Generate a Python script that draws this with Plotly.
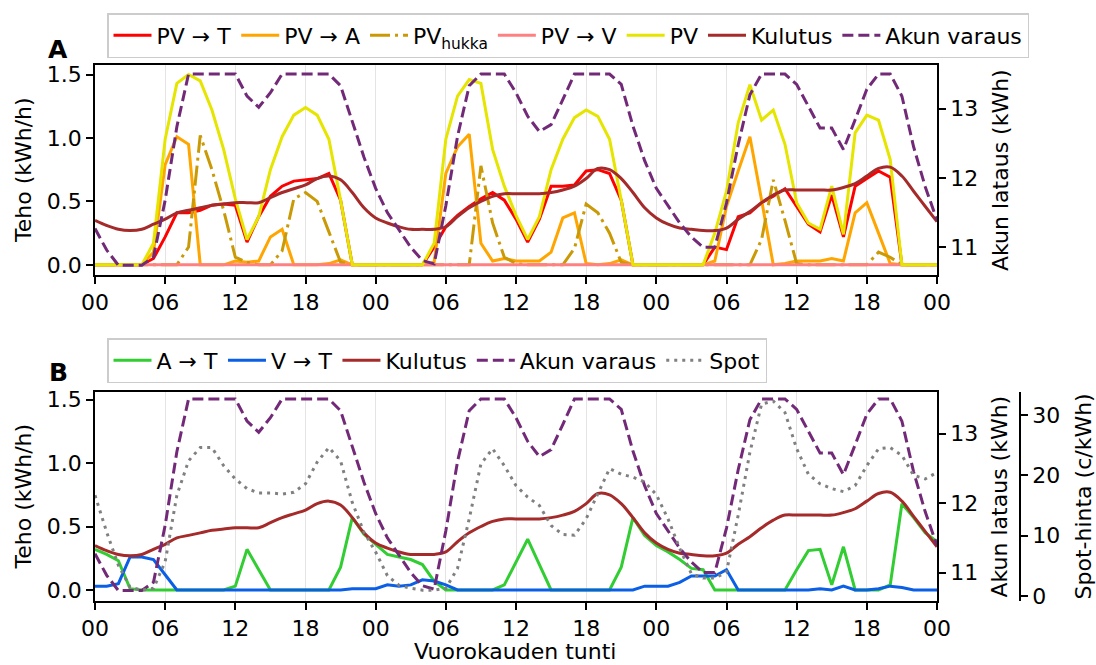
import plotly.graph_objects as go

hours = list(range(73))
tick_vals = [0, 6, 12, 18, 24, 30, 36, 42, 48, 54, 60, 66, 72]
tick_text = ["00", "06", "12", "18", "00", "06", "12", "18", "00", "06", "12", "18", "00"]

pv = [0, 0, 0, 0, 0, 0.17, 0.99, 1.43, 1.50, 1.45, 1.22, 0.91, 0.52, 0.20, 0.38, 0.75, 1.01, 1.18, 1.24, 1.18, 0.99, 0.51, 0, 0,
      0, 0, 0, 0, 0, 0.17, 0.99, 1.33, 1.46, 1.43, 0.91, 0.62, 0.39, 0.20, 0.38, 0.75, 0.99, 1.16, 1.22, 1.17, 0.99, 0.51, 0, 0,
      0, 0, 0, 0, 0, 0.25, 0.58, 1.12, 1.42, 1.14, 1.22, 0.95, 0.49, 0.33, 0.28, 0.62, 0.24, 1.04, 1.18, 1.14, 0.83, 0, 0, 0, 0]
pv_t = [0, 0, 0, 0, 0, 0.05, 0.22, 0.41, 0.41, 0.43, 0.47, 0.48, 0.47, 0.18, 0.38, 0.54, 0.62, 0.66, 0.67, 0.68, 0.72, 0.51, 0, 0,
        0, 0, 0, 0, 0, 0.14, 0.30, 0.39, 0.46, 0.52, 0.57, 0.51, 0.36, 0.18, 0.36, 0.62, 0.62, 0.63, 0.74, 0.75, 0.72, 0.51, 0, 0,
        0, 0, 0, 0, 0, 0.14, 0.12, 0.38, 0.41, 0.49, 0.54, 0.60, 0.46, 0.32, 0.26, 0.55, 0.22, 0.62, 0.68, 0.74, 0.69, 0, 0, 0, 0]
pv_a = [0, 0, 0, 0, 0, 0.10, 0.79, 1.01, 0.95, 0, 0, 0, 0.03, 0.02, 0.03, 0.22, 0.28, 0, 0, 0, 0.01, 0.04, 0, 0,
        0, 0, 0, 0, 0, 0.02, 0.72, 0.93, 1.03, 0.17, 0.03, 0.05, 0.03, 0.03, 0.03, 0.10, 0.37, 0.41, 0.01, 0, 0.01, 0.04, 0, 0,
        0, 0, 0, 0, 0, 0.03, 0.46, 0.74, 1.01, 0.51, 0, 0.01, 0.03, 0.03, 0.03, 0.05, 0.03, 0.41, 0.49, 0.25, 0.01, 0, 0, 0, 0]
pv_hukka = [0, 0, 0, 0, 0, 0, 0, 0, 0.14, 1.02, 0.75, 0.43, 0.06, 0.02, 0, 0, 0.11, 0.52, 0.57, 0.50, 0.26, 0.02, 0, 0,
            0, 0, 0, 0, 0, 0, 0, 0, 0, 0.78, 0.33, 0.06, 0.01, 0, 0, 0, 0, 0.13, 0.48, 0.41, 0.25, 0.02, 0, 0,
            0, 0, 0, 0, 0, 0, 0, 0, 0, 0.20, 0.67, 0.35, 0.01, 0, 0, 0, 0, 0, 0, 0.10, 0.06, 0, 0, 0, 0]
pv_v = [0] * 73
kulutus = [0.35, 0.31, 0.28, 0.27, 0.28, 0.32, 0.36, 0.41, 0.43, 0.45, 0.47, 0.48, 0.49, 0.49, 0.49, 0.53, 0.57, 0.60, 0.63, 0.68, 0.70, 0.67, 0.57, 0.45,
           0.37, 0.33, 0.30, 0.28, 0.28, 0.28, 0.30, 0.38, 0.45, 0.50, 0.54, 0.56, 0.56, 0.56, 0.56, 0.57, 0.59, 0.62, 0.68, 0.76, 0.75, 0.68, 0.57, 0.45,
           0.37, 0.32, 0.29, 0.28, 0.27, 0.27, 0.29, 0.36, 0.42, 0.49, 0.55, 0.59, 0.59, 0.59, 0.59, 0.59, 0.61, 0.64, 0.70, 0.76, 0.77, 0.70, 0.58, 0.46, 0.34]
akku = [11.27, 10.96, 10.74, 10.74, 10.74, 10.86, 11.68, 12.74, 13.5, 13.5, 13.5, 13.5, 13.5, 13.18, 13.02, 13.23, 13.5, 13.5, 13.5, 13.5, 13.5, 13.33, 12.8, 12.3,
        11.85, 11.5, 11.25, 11.0, 10.81, 10.76, 11.6, 12.6, 13.33, 13.5, 13.5, 13.5, 13.23, 12.89, 12.67, 12.77, 13.13, 13.5, 13.5, 13.5, 13.5, 13.35, 12.75, 12.25,
        11.85, 11.6, 11.35, 11.15, 11.0, 11.0, 11.64, 12.48, 13.2, 13.5, 13.5, 13.5, 13.35, 13.03, 12.72, 12.72, 12.41, 12.84, 13.28, 13.5, 13.5, 13.18, 12.45, 11.87, 11.39]
a_t = [0.32, 0.28, 0.23, 0.01, 0, 0, 0, 0, 0, 0, 0, 0, 0.03, 0.32, 0.16, 0, 0, 0, 0, 0, 0, 0.18, 0.57, 0.44,
       0.36, 0.28, 0.26, 0.24, 0.20, 0.07, 0, 0, 0, 0, 0, 0.04, 0.22, 0.40, 0.20, 0, 0, 0, 0, 0, 0, 0.18, 0.57, 0.43,
       0.35, 0.30, 0.24, 0.17, 0.16, 0, 0, 0, 0, 0, 0, 0, 0.16, 0.31, 0.32, 0.04, 0.34, 0, 0, 0, 0.04, 0.68, 0.57, 0.45, 0.38]
v_t = [0.03, 0.03, 0.05, 0.26, 0.26, 0.24, 0.12, 0, 0, 0, 0, 0, 0, 0, 0, 0, 0, 0, 0, 0, 0, 0, 0.01, 0.01,
       0.01, 0.04, 0.03, 0.04, 0.08, 0.07, 0.04, 0, 0, 0, 0, 0, 0, 0, 0, 0, 0, 0, 0, 0, 0, 0, 0, 0.03,
       0.03, 0.03, 0.06, 0.11, 0.11, 0.11, 0.16, 0, 0, 0, 0, 0, 0, 0, 0.01, 0, 0.03, 0, 0, 0.01, 0.03, 0.02, 0, 0, 0]
spot = [16.7, 10.6, 5.1, 1.5, 1.0, 1.3, 5.7, 16.7, 22.4, 24.6, 24.6, 21.6, 19.4, 17.8, 17.1, 17.1, 16.9, 17.2, 18.6, 22.2, 24.6, 22.4, 15.5, 10.6,
        7.3, 3.4, 1.8, 1.3, 1.0, 1.0, 1.3, 4.6, 12.8, 21.9, 24.4, 21.6, 18.3, 16.4, 15.0, 11.7, 10.2, 10.1, 12.8, 16.9, 21.1, 20.2, 19.7, 18.9,
        16.8, 12.8, 7.9, 3.7, 3.0, 3.0, 4.0, 13.4, 23.8, 31.8, 32.3, 30.4, 24.4, 20.2, 18.6, 17.8, 17.3, 18.3, 21.6, 24.4, 24.6, 23.3, 20.0, 19.4, 20.5]

FONT = "DejaVu Sans"
FS = 22
TFS = 22
LW = 3
fig = go.Figure()

def add(y, name, color, xa, ya, legend, dash=None, width=LW, shape="linear"):
    fig.add_trace(go.Scatter(x=hours, y=y, name=name, mode="lines",
                             line=dict(color=color, width=width, dash=dash, shape=shape),
                             xaxis=xa, yaxis=ya, legend=legend))

# Panel A
add(pv_t, "PV → T", "#ff0000", "x", "y", "legend")
add(pv_a, "PV → A", "#ffa500", "x", "y", "legend")
add(pv_hukka, "PV<sub>hukka</sub>", "#c99a06", "x", "y", "legend", dash="20px,5px,3px,5px")
add(pv_v, "PV → V", "#ff8080", "x", "y", "legend")
add(pv, "PV", "#e5e500", "x", "y", "legend")
add(kulutus, "Kulutus", "#a52a2a", "x", "y", "legend", shape="spline")
add(akku, "Akun varaus", "#722a78", "x", "y2", "legend", dash="11px,5px")

# Panel B
add(a_t, "A → T", "#32cd32", "x2", "y3", "legend2")
add(v_t, "V → T", "#0a5fe6", "x2", "y3", "legend2")
add(kulutus, "Kulutus", "#a52a2a", "x2", "y3", "legend2", shape="spline")
add(akku, "Akun varaus", "#722a78", "x2", "y4", "legend2", dash="11px,5px")
add(spot, "Spot", "#808080", "x2", "y5", "legend2", dash="3px,5px")

L, R, T, B = 95, 20, 65, 64
W, H = 1096, 665
pw = W - L - R
ph = H - T - B
def px(xp):
    return (xp - L) / pw
def py(yp):
    return (H - B - yp) / ph

xdom = [0, px(937)]
axis_common = dict(showline=True, linecolor="black", linewidth=1.6, ticks="outside",
                   ticklen=7, tickwidth=1.6, tickcolor="black", zeroline=False,
                   automargin=False,
                   tickfont=dict(family=FONT, size=TFS, color="black"))
xcommon = dict(axis_common, range=[0, 72], tickvals=tick_vals, ticktext=tick_text,
               showgrid=True, gridcolor="#e4e4e4", gridwidth=1.3, mirror=True)

fig.update_layout(
    width=W, height=H,
    margin=dict(l=L, r=R, t=T, b=B, autoexpand=False),
    paper_bgcolor="white", plot_bgcolor="white",
    font=dict(family=FONT, size=FS, color="black"),
    xaxis=dict(xcommon, domain=xdom, anchor="y"),
    yaxis=dict(axis_common, domain=[py(275), py(65)], anchor="x", range=[-0.08, 1.575],
               tickvals=[0, 0.5, 1.0, 1.5], ticktext=["0.0", "0.5", "1.0", "1.5"], showgrid=False),
    yaxis2=dict(axis_common, overlaying="y", side="right", anchor="x", range=[10.6, 13.63],
                tickvals=[11, 12, 13], showgrid=False),
    xaxis2=dict(xcommon, domain=xdom, anchor="y3"),
    yaxis3=dict(axis_common, domain=[0, py(392)], anchor="x2", range=[-0.087, 1.56],
                tickvals=[0, 0.5, 1.0, 1.5], ticktext=["0.0", "0.5", "1.0", "1.5"], showgrid=False),
    yaxis4=dict(axis_common, overlaying="y3", side="right", anchor="x2", range=[10.59, 13.6],
                tickvals=[11, 12, 13], showgrid=False),
    yaxis5=dict(axis_common, overlaying="y3", side="right", anchor="free", position=px(1020),
                range=[-0.8, 33.8], tickvals=[0, 10, 20, 30], showgrid=False),
    legend=dict(orientation="h", x=px(107), xanchor="left", y=py(13), yanchor="top",
                bordercolor="#cccccc", borderwidth=1.5, bgcolor="rgba(255,255,255,0.85)",
                font=dict(family=FONT, size=FS), traceorder="normal", itemwidth=38),
    legend2=dict(orientation="h", x=px(107), xanchor="left", y=py(338), yanchor="top",
                 bordercolor="#cccccc", borderwidth=1.5, bgcolor="rgba(255,255,255,0.85)",
                 font=dict(family=FONT, size=FS), traceorder="normal", itemwidth=38),
)

def ann(text, x, y, angle=0, size=FS, bold=False):
    fig.add_annotation(text=("<b>%s</b>" % text) if bold else text,
                       x=px(x), y=py(y), xref="paper", yref="paper",
                       showarrow=False, textangle=angle, xanchor="center", yanchor="middle",
                       font=dict(family=FONT, size=size, color="black"))

ann("A", 58, 50, size=25, bold=True)
ann("B", 58, 372, size=25, bold=True)
ann("Teho (kWh/h)", 23, 170, angle=-90)
ann("Teho (kWh/h)", 23, 496.5, angle=-90)
ann("Akun lataus (kWh)", 1000, 170, angle=-90)
ann("Akun lataus (kWh)", 999, 496.5, angle=-90)
ann("Spot-hinta (c/kWh)", 1083, 496.5, angle=-90)
ann("Vuorokauden tunti", 515, 651)

fig.write_html("out.html", config={"displayModeBar": False},
               post_script="document.body.style.margin='0px';document.body.style.overflow='hidden';")
